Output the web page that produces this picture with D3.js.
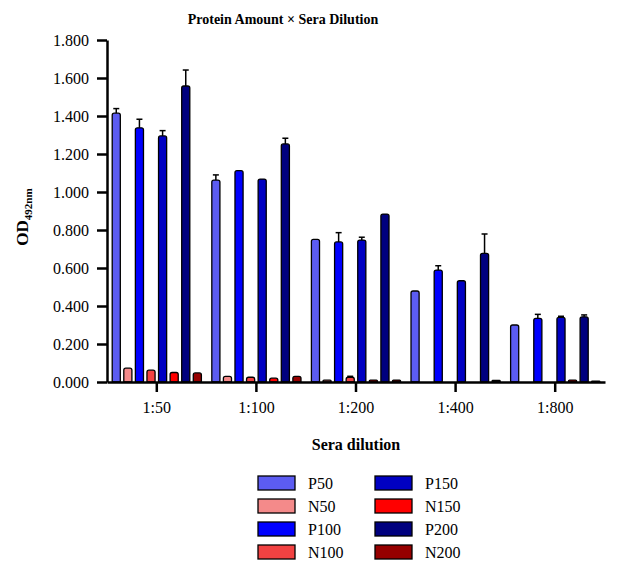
<!DOCTYPE html>
<html>
<head>
<meta charset="utf-8">
<script src="https://cdn.jsdelivr.net/npm/d3@7/dist/d3.min.js"></script>
<style>
  html, body { margin: 0; padding: 0; background: #fff; }
  svg text { font-family: "Liberation Serif", "Tinos", "Times New Roman", "DejaVu Serif", serif !important; }
</style>
</head>
<body>
<svg id="chart" width="622" height="561"></svg>
<script>
// Sera dilutions (x groups) and the eight series drawn in each group
const dilutions = ["1:50", "1:100", "1:200", "1:400", "1:800"];
const seriesNames = ["P50", "N50", "P100", "N100", "P150", "N150", "P200", "N200"];
const seriesColors = ["#5c5cf2", "#f48a8a", "#0000ff", "#f24242", "#0000c2", "#ff0000", "#00007e", "#960000"];

// Mean OD492nm per dilution
const P50  = [1.415, 1.063, 0.751, 0.479, 0.300];
const N50  = [0.073, 0.030, 0.010, 0.000, 0.000];
const P100 = [1.338, 1.112, 0.737, 0.589, 0.335];
const N100 = [0.062, 0.025, 0.025, 0.000, 0.000];
const P150 = [1.295, 1.068, 0.747, 0.533, 0.340];
const N150 = [0.050, 0.020, 0.010, 0.000, 0.010];
const P200 = [1.558, 1.253, 0.884, 0.677, 0.343];
const N200 = [0.048, 0.030, 0.010, 0.008, 0.004];

// Upper error (SEM) per dilution
const P50err  = [0.024, 0.027, 0.000, 0.000, 0.000];
const N50err  = [0.000, 0.000, 0.000, 0.000, 0.000];
const P100err = [0.045, 0.000, 0.049, 0.023, 0.021];
const N100err = [0.000, 0.000, 0.005, 0.000, 0.000];
const P150err = [0.028, 0.000, 0.015, 0.000, 0.006];
const N150err = [0.000, 0.000, 0.000, 0.000, 0.000];
const P200err = [0.084, 0.030, 0.000, 0.102, 0.010];
const N200err = [0.000, 0.000, 0.000, 0.000, 0.000];

const yTicks = [0, 0.2, 0.4, 0.6, 0.8, 1.0, 1.2, 1.4, 1.6, 1.8];

const seriesValues = [P50, N50, P100, N100, P150, N150, P200, N200];
const seriesErrors = [P50err, N50err, P100err, N100err, P150err, N150err, P200err, N200err];

const rows = [];
dilutions.forEach((d, gi) => {
  seriesNames.forEach((s, si) => {
    rows.push({ dilution: d, series: s, color: seriesColors[si],
                value: seriesValues[si][gi], err: seriesErrors[si][gi] });
  });
});

const svg = d3.select("#chart");

const x0 = d3.scaleBand().domain(dilutions).range([107, 605]).paddingInner(0).paddingOuter(0);
const x1 = d3.scaleBand().domain(seriesNames).range([0, x0.bandwidth()])
  .paddingInner(0.3).paddingOuter(0.45);
const y = d3.scaleLinear().domain([0, 1.8]).range([382, 40]);

// Title
svg.append("text")
  .attr("x", 283).attr("y", 24)
  .attr("text-anchor", "middle")
  .attr("font-weight", "bold").attr("font-size", 14)
  .text("Protein Amount × Sera Dilution");

// Bars with slightly rounded tops
const barPath = (x, w, yTop, yBase) => {
  const r = Math.min(2, w / 2, (yBase - yTop) / 2);
  return `M${x},${yBase}V${yTop + r}Q${x},${yTop} ${x + r},${yTop}H${x + w - r}Q${x + w},${yTop} ${x + w},${yTop + r}V${yBase}Z`;
};

const bars = svg.append("g");
bars.selectAll("path")
  .data(rows.filter(r => r.value > 0))
  .join("path")
  .attr("d", r => barPath(x0(r.dilution) + x1(r.series), x1.bandwidth(), y(r.value), y(0)))
  .attr("fill", r => r.color)
  .attr("stroke", "#000")
  .attr("stroke-width", 1.3);

// Error bars (upper only)
const errs = svg.append("g").attr("stroke", "#000").attr("stroke-width", 1.5);
rows.filter(r => r.err > 0).forEach(r => {
  const cx = x0(r.dilution) + x1(r.series) + x1.bandwidth() / 2;
  errs.append("line").attr("x1", cx).attr("x2", cx)
    .attr("y1", y(r.value)).attr("y2", y(r.value + r.err));
  errs.append("line").attr("x1", cx - 3).attr("x2", cx + 3)
    .attr("y1", y(r.value + r.err)).attr("y2", y(r.value + r.err));
});

// Y axis
const yAxis = svg.append("g")
  .attr("transform", "translate(107,0)")
  .call(d3.axisLeft(y).tickValues(yTicks).tickFormat(d3.format(".3f")).tickSize(10).tickSizeOuter(0).tickPadding(8));
yAxis.select(".domain").attr("stroke-width", 2.5);
yAxis.selectAll(".tick line").attr("stroke-width", 2.5);
yAxis.selectAll(".tick text").attr("font-size", 16).attr("fill", "#000");

// X axis
const xAxis = svg.append("g")
  .attr("transform", "translate(0,382)")
  .call(d3.axisBottom(x0).tickSize(10).tickSizeOuter(0).tickPadding(10));
xAxis.select(".domain").attr("stroke-width", 2.5);
xAxis.selectAll(".tick line").attr("stroke-width", 2.5);
xAxis.selectAll(".tick text").attr("font-size", 16).attr("fill", "#000");

// Axis titles
svg.append("text")
  .attr("x", 356).attr("y", 450)
  .attr("text-anchor", "middle")
  .attr("font-weight", "bold").attr("font-size", 16)
  .text("Sera dilution");

const yLabel = svg.append("text")
  .attr("transform", "translate(28,217) rotate(-90)")
  .attr("text-anchor", "middle")
  .attr("font-weight", "bold").attr("font-size", 17);
yLabel.append("tspan").text("OD");
yLabel.append("tspan").attr("font-size", 11).attr("dy", 4).text("492nm");

// Legend: two columns of four entries
const legend = svg.append("g");
seriesNames.forEach((s, i) => {
  const col = Math.floor(i / 4), row = i % 4;
  const gx = 258 + col * 117, gy = 476 + row * 23;
  legend.append("rect")
    .attr("x", gx).attr("y", gy).attr("width", 37).attr("height", 14)
    .attr("fill", seriesColors[i]).attr("stroke", "#000").attr("stroke-width", 1.3);
  legend.append("text")
    .attr("x", gx + 50).attr("y", gy + 12.5)
    .attr("font-size", 16)
    .text(s);
});
</script>
</body>
</html>
